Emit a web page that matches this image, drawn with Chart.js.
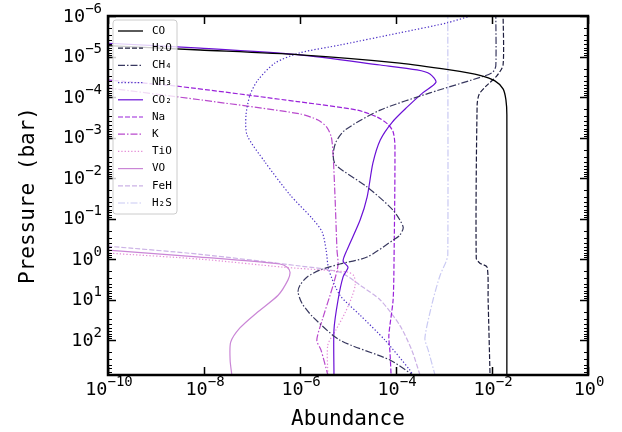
<!DOCTYPE html>
<html>
<head>
<meta charset="utf-8">
<script src="https://cdn.jsdelivr.net/npm/chart.js@4"></script>
<style>
  html, body { margin: 0; padding: 0; background: #fff; }
</style>
</head>
<body>
<canvas id="grafica" width="622" height="432"></canvas>
<script>
// Perfiles de abundancia: pares [presión (bar), abundancia]
const CO = [[5.25e-6, 6.3e-11], [6.9e-6, 8.3e-9], [9.1e-6, 1e-6], [1.45e-5, 1.2e-4], [2.14e-5, 1.33e-3],
  [2.9e-5, 5.6e-3], [4.0e-5, 1.15e-2], [6.3e-5, 1.7e-2], [1.17e-4, 1.95e-2], [2.75e-4, 2.04e-2], [724, 2.04e-2]];
const H2O = [[7.9e-7, 1.7e-2], [1.62e-5, 1.7e-2], [3.0e-5, 1.26e-2], [5.4e-5, 7.5e-3], [8.5e-5, 5.4e-3],
  [1.58e-4, 4.9e-3], [0.95, 4.7e-3], [1.26, 5.6e-3], [1.58, 7.9e-3], [10.2, 8.3e-3], [724, 9.1e-3]];
const CH4 = [[7.9e-7, 1.2e-2], [1.7e-5, 1.2e-2], [2.4e-5, 1.05e-2], [3.0e-5, 7.1e-3], [7.9e-5, 5.1e-4],
  [2.1e-4, 4.7e-5], [6.5e-4, 8.7e-6], [1.29e-3, 5.6e-6], [2.7e-3, 4.9e-6], [4.8e-3, 5.6e-6],
  [1.66e-2, 2.5e-5], [6.2e-2, 8.7e-5], [0.162, 1.41e-4], [0.257, 1.2e-4], [0.34, 8.7e-5],
  [0.89, 2.5e-5], [1.32, 6.8e-6], [1.86, 2.6e-6], [2.75, 1.41e-6], [4.4, 1.0e-6], [6.5, 9.1e-7],
  [12.3, 1.1e-6], [26.9, 1.86e-6], [100, 6.8e-6], [309, 7.5e-5], [724, 2.24e-4]];
const NH3 = [[7.9e-7, 6.5e-3], [1e-6, 3.5e-3], [1.48e-6, 1.15e-3], [2.6e-6, 1.2e-4], [5.2e-6, 6.8e-6],
  [8.1e-6, 1e-6], [1.45e-5, 3.0e-7], [3.8e-5, 1.33e-7], [8.9e-5, 9.1e-8], [2.75e-4, 7.5e-8],
  [8.7e-4, 7.9e-8], [4.0e-3, 1.86e-7], [2.6e-2, 6.2e-7], [9.8e-2, 1.78e-6], [0.214, 2.9e-6],
  [0.60, 3.5e-6], [1.86, 4.0e-6], [7.8, 6.8e-6], [24, 1.78e-5], [100, 5.9e-5], [550, 1.95e-4], [724, 2.24e-4]];
const CO2 = [[4.4e-6, 5e-11], [4.7e-6, 1e-10], [6.2e-6, 8.3e-9], [9.1e-6, 1e-6], [1.62e-5, 4.7e-5],
  [2.14e-5, 2.75e-4], [2.7e-5, 5.1e-4], [4.3e-5, 6.8e-4], [7.9e-5, 3.6e-4], [1.78e-4, 1.7e-4],
  [4.2e-4, 8.3e-5], [1.15e-3, 4.7e-5], [4.3e-3, 3.3e-5], [2.95e-2, 2.5e-5], [0.11, 1.78e-5],
  [0.60, 9.5e-6], [1.12, 7.9e-6], [1.58, 1e-5], [2.75, 7.9e-6], [10.2, 6.2e-6], [56, 5.1e-6], [724, 5.1e-6]];
const NA = [[3.5e-5, 5e-11], [3.8e-5, 1e-10], [5.4e-5, 2.75e-9], [1.32e-4, 1e-6], [2.1e-4, 1.55e-5],
  [3.1e-4, 4.0e-5], [4.7e-4, 6.8e-5], [7.2e-4, 8.7e-5], [1.55e-3, 9.5e-5], [1.05, 9.1e-5],
  [10.2, 8.7e-5], [76, 7.1e-5], [200, 7.5e-5], [724, 7.9e-5]];
const K = [[5.5e-5, 5e-11], [6.0e-5, 1e-10], [1.17e-4, 8.3e-9], [2.6e-4, 1e-6], [3.7e-4, 2.37e-6],
  [5.5e-4, 3.6e-6], [9.8e-4, 4.5e-6], [2.7e-3, 4.9e-6], [3.5e-2, 5.4e-6], [0.60, 5.9e-6],
  [1.41, 6.2e-6], [4.4, 4.9e-6], [32, 2.9e-6], [100, 2.24e-6], [178, 2.75e-6], [724, 3.8e-6]];
const TIO = [[0.66, 5e-11], [0.71, 1e-10], [1.0, 8.3e-9], [1.58, 4.5e-7], [1.86, 3.0e-6], [2.1, 1e-5],
  [2.6, 1.33e-5], [4.4, 1.41e-5], [8.7, 1.2e-5], [21, 8.7e-6], [56, 5.6e-6], [132, 3.8e-6], [724, 3.8e-6]];
const VO = [[0.56, 5e-11], [0.60, 1e-10], [0.89, 8.3e-9], [1.32, 3.8e-7], [1.58, 5.4e-7], [2.1, 6.2e-7],
  [3.3, 5.6e-7], [7.8, 3.5e-7], [21, 1.26e-7], [50, 5.6e-8], [112, 3.6e-8], [309, 3.5e-8], [724, 3.8e-8]];
const FEH = [[0.45, 5e-11], [0.48, 1e-10], [0.76, 8.3e-9], [1.48, 1e-6], [2.1, 6.8e-6], [4.4, 1.78e-5],
  [10.2, 4.7e-5], [43, 1.2e-4], [178, 2.14e-4], [724, 3.16e-4]];
const H2S = [[7.9e-7, 1.2e-3], [0.79, 1.2e-3], [1.17, 1.1e-3], [2.5, 8.3e-4], [10.2, 5.9e-4],
  [89, 4.0e-4], [178, 4.7e-4], [724, 6.5e-4]];

const especies = ["CO", "H₂O", "CH₄", "NH₃", "CO₂", "Na", "K", "TiO", "VO", "FeH", "H₂S"];
const perfiles = [CO, H2O, CH4, NH3, CO2, NA, K, TIO, VO, FEH, H2S];

const ticksX = [1e-10, 1e-8, 1e-6, 1e-4, 1e-2, 1];
const expX = ["-10", "-8", "-6", "-4", "-2", "0"];
const ticksY = [1e-6, 1e-5, 1e-4, 1e-3, 1e-2, 1e-1, 1, 10, 100];
const expY = ["-6", "-5", "-4", "-3", "-2", "-1", "0", "1", "2"];
const decadasY = [-6, -5, -4, -3, -2, -1, 0, 1, 2];

// estilos
const colores = ["#000000", "#1d1d3d", "#38385f", "#4c30c6", "#6a10d6", "#9a22da", "#b94acd",
  "#e48cd6", "#ca86d6", "#ccb2e6", "#cacaf3"];
const trazos = [[], [5, 2], [7, 2, 1.5, 2], [1.3, 2]];
const fuente = "'DejaVu Sans Mono', monospace";

const datasets = perfiles.map((perfil, i) => ({
  label: especies[i],
  data: perfil.map(([p, x]) => ({ x: x, y: p })),
  showLine: true,
  borderColor: colores[i],
  borderWidth: i === 0 ? 1.3 : 1.2,
  borderDash: trazos[i % 4],
  pointRadius: 0,
  tension: 0.25,
  fill: false,
}));

// Dibuja etiquetas tipo 10^n
function potencia(ctx, x, y, exp, alinear) {
  ctx.font = "18.5px " + fuente;
  const wBase = ctx.measureText("10").width;
  ctx.font = "14px " + fuente;
  const e = exp.replace("-", "\u2212");
  const wExp = ctx.measureText(e).width;
  const total = wBase + wExp;
  let x0 = x - total / 2;
  if (alinear === "right") x0 = x - total;
  ctx.textAlign = "left";
  ctx.textBaseline = "middle";
  ctx.font = "18.5px " + fuente;
  ctx.fillText("10", x0, y);
  ctx.font = "14px " + fuente;
  ctx.fillText(e, x0 + wBase, y - 8);
}

const marco = {
  id: "marco",
  afterDraw(chart) {
    const ctx = chart.ctx;
    const area = chart.chartArea;
    const sx = chart.scales.x;
    const sy = chart.scales.y;
    ctx.save();
    ctx.fillStyle = "#000";
    ctx.strokeStyle = "#000";

    // ticks hacia adentro
    ctx.lineWidth = 1.5;
    ctx.beginPath();
    ticksX.forEach((v) => {
      const px = Math.round(sx.getPixelForValue(v)) + 0.5;
      ctx.moveTo(px, area.bottom); ctx.lineTo(px, area.bottom - 8);
      ctx.moveTo(px, area.top); ctx.lineTo(px, area.top + 8);
    });
    ticksY.forEach((v) => {
      const py = Math.round(sy.getPixelForValue(v)) + 0.5;
      ctx.moveTo(area.left, py); ctx.lineTo(area.left + 8, py);
      ctx.moveTo(area.right, py); ctx.lineTo(area.right - 8, py);
    });
    ctx.stroke();
    ctx.lineWidth = 1;
    ctx.beginPath();
    decadasY.forEach((d) => {
      for (let m = 2; m <= 9; m++) {
        const v = m * Math.pow(10, d);
        if (v > sy.max) continue;
        const py = Math.round(sy.getPixelForValue(v)) + 0.5;
        ctx.moveTo(area.left, py); ctx.lineTo(area.left + 4, py);
        ctx.moveTo(area.right, py); ctx.lineTo(area.right - 4, py);
      }
    });
    ctx.stroke();

    // marco
    ctx.lineWidth = 2.5;
    ctx.strokeRect(area.left, area.top, area.right - area.left, area.bottom - area.top);

    // etiquetas de ticks
    ticksX.forEach((v, i) => potencia(ctx, sx.getPixelForValue(v) + 1, area.bottom + 15, expX[i], "center"));
    ticksY.forEach((v, i) => potencia(ctx, area.left - 6, sy.getPixelForValue(v) + 1, expY[i], "right"));

    // títulos de ejes
    ctx.font = "21px " + fuente;
    ctx.textAlign = "center";
    ctx.textBaseline = "middle";
    ctx.fillText("Abundance", (area.left + area.right) / 2, 420);
    ctx.save();
    ctx.translate(29, (area.top + area.bottom) / 2);
    ctx.rotate(-Math.PI / 2);
    ctx.fillText("Pressure (bar)", 0, 0);
    ctx.restore();

    // leyenda
    const lx = 113, ly = 20, lw = 64, lh = 194;
    ctx.beginPath();
    ctx.roundRect(lx, ly, lw, lh, 3);
    ctx.fillStyle = "rgba(255,255,255,0.8)";
    ctx.fill();
    ctx.lineWidth = 1;
    ctx.strokeStyle = "#cccccc";
    ctx.stroke();
    ctx.font = "11px " + fuente;
    ctx.textAlign = "left";
    ctx.textBaseline = "middle";
    chart.data.datasets.forEach((ds, i) => {
      const y = 31 + i * 17.2;
      ctx.beginPath();
      ctx.setLineDash(ds.borderDash);
      ctx.strokeStyle = ds.borderColor;
      ctx.lineWidth = ds.borderWidth;
      ctx.moveTo(118, y);
      ctx.lineTo(143, y);
      ctx.stroke();
      ctx.setLineDash([]);
      ctx.fillStyle = "#000";
      ctx.fillText(ds.label, 152, y);
    });
    ctx.restore();
  },
};

const config = {
  type: "scatter",
  data: { datasets: datasets },
  options: {
    responsive: false,
    animation: false,
    devicePixelRatio: 1,
    layout: { padding: { left: 108, right: 34, top: 16, bottom: 57 } },
    plugins: { legend: { display: false }, tooltip: { enabled: false } },
    scales: {
      x: { type: "logarithmic", min: 1e-10, max: 1, display: false },
      y: { type: "logarithmic", min: 1e-6, max: 724, reverse: true, display: false },
    },
  },
  plugins: [marco],
};

const myChart = new Chart(document.getElementById("grafica"), config);
</script>
</body>
</html>
